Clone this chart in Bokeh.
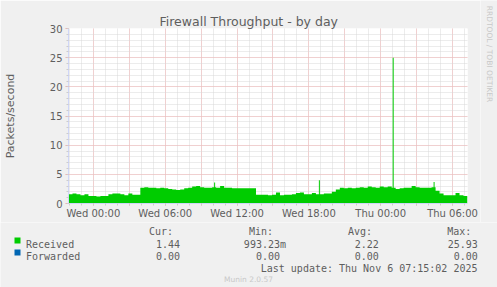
import numpy as np
import pandas as pd
from bokeh.plotting import figure
from bokeh.layouts import column, row
from bokeh.models import (Range1d, FixedTicker, DatetimeTickFormatter, Label, BoxAnnotation)
from bokeh.embed import file_html
from bokeh.resources import INLINE

# ---------------- data ----------------
title = "Firewall Throughput - by day"
y_label = "Packets/second"
start_time = "2025-11-04 21:55"
end_time = "2025-11-06 07:15"
step_minutes = 20          # resolution of the values read below
# Received packets/second, one value per 20 minutes
received = [1.6, 1.7, 1.6, 1.4, 1.6, 1.3, 1.3, 1.2, 1.3, 1.3,
            1.6, 1.7, 1.7, 1.6, 1.4, 1.7, 1.5, 1.5, 2.7, 2.8,
            2.7, 2.7, 2.6, 2.7, 2.6, 2.5, 2.4, 2.3, 2.4, 2.6,
            2.7, 2.9, 3.0, 2.8, 2.7, 2.7, 2.8, 2.7, 3.0, 2.7,
            2.7, 2.6, 2.6, 2.6, 2.6, 2.6, 2.6, 1.5, 1.5, 1.5,
            1.4, 1.5, 1.9, 1.4, 1.5, 1.5, 1.6, 1.8, 1.9, 1.6,
            1.6, 1.8, 1.6, 1.6, 1.7, 1.7, 2.0, 2.4, 2.7, 2.6,
            2.7, 2.6, 2.7, 2.8, 2.7, 2.9, 2.8, 2.7, 2.9, 2.8,
            2.9, 2.7, 2.5, 2.6, 2.7, 2.7, 3.0, 2.8, 2.7, 2.7,
            2.7, 2.8, 2.2, 1.7, 1.4, 1.4, 1.4, 1.8, 1.4, 1.3]
# short 5-minute peaks
peak_times = ["2025-11-05 10:05", "2025-11-05 18:50", "2025-11-06 01:00", "2025-11-06 04:25"]
peak_values = [3.6, 4.0, 25.0, 3.7]

legend_names = ["Received", "Forwarded"]
legend_colors = ["#00CC00", "#0066B3"]
col_headers = ["Cur:", "Min:", "Avg:", "Max:"]
stats = [["1.44", "993.23m", "2.22", "25.93"],
         ["0.00", "0.00", "0.00", "0.00"]]
last_update = "Last update: Thu Nov  6 07:15:02 2025"
version = "Munin 2.0.57"
watermark = "RRDTOOL / TOBI OETIKER"
y_ticks = [0, 5, 10, 15, 20, 25, 30]

# ---------------- build series ----------------
t0 = pd.Timestamp(start_time)
t1 = pd.Timestamp(end_time)
fine = 5
rep = step_minutes // fine
vals = np.repeat(np.array(received, dtype=float), rep)
for t, v in zip(peak_times, peak_values):
    idx = int((pd.Timestamp(t) - t0) / pd.Timedelta(minutes=fine))
    vals[idx] = v
edges = pd.date_range(t0, periods=len(vals) + 1, freq=f"{fine}min")
xs = np.repeat(edges.values, 2)[1:-1]
ys = np.repeat(vals, 2)

def ms(ts):
    return pd.Timestamp(ts).value / 1e6

FONT = "DejaVu Sans"
MONO = "DejaVu Sans Mono"
TXT = "#5e5e5e"
BG = "#F0F0F0"
W, H = 497, 287
MAIN_W, MAIN_H = 480, 222

# ---------------- main chart ----------------
p = figure(width=MAIN_W, height=MAIN_H, x_axis_type="datetime",
           output_backend="svg", toolbar_location=None,
           min_border_left=67, min_border_right=MAIN_W - 467,
           min_border_top=28, min_border_bottom=MAIN_H - 203,
           x_range=Range1d(t0, t1), y_range=Range1d(0, 30))
p.background_fill_color = "white"
p.border_fill_color = BG
p.outline_line_color = None

p.title.text = title
p.title.align = "left"
p.title.offset = 91
p.title.standoff = 0
p.title.text_font = FONT
p.title.text_font_size = "12.5px"
p.title.text_font_style = "normal"
p.title.text_color = TXT

p.varea(x=xs, y1=np.zeros_like(ys), y2=ys, fill_color=legend_colors[0])

major_x = pd.date_range("2025-11-05 00:00", "2025-11-06 06:00", freq="3h")
minor_x = pd.date_range("2025-11-04 22:00", "2025-11-06 07:00", freq="1h")
xt = FixedTicker(ticks=[ms(t) for t in major_x], minor_ticks=[ms(t) for t in minor_x])
yt = FixedTicker(ticks=y_ticks, minor_ticks=list(range(0, 31)))
p.xaxis.ticker = xt
p.yaxis.ticker = yt
p.xgrid.ticker = xt
p.ygrid.ticker = yt
fmt = "%a %H:%M"
p.xaxis.formatter = DatetimeTickFormatter(milliseconds=fmt, seconds=fmt, minsec=fmt,
                                          minutes=fmt, hourmin=fmt, hours=fmt,
                                          days=fmt, months=fmt, years=fmt)
p.xaxis.major_label_overrides = {ms(t): "" for t in major_x if t.hour % 6 != 0}

for ax in (p.xaxis, p.yaxis):
    ax.axis_line_color = "#CFD6F8"
    ax.axis_line_width = 1
    ax.major_tick_line_color = "#f4a8a8"
    ax.minor_tick_line_color = "#cccccc"
    ax.major_tick_in = 0
    ax.minor_tick_in = 0
    ax.major_tick_out = 3
    ax.minor_tick_out = 2
    ax.major_label_text_font = FONT
    ax.major_label_text_font_size = "10px"
    ax.major_label_text_color = TXT
p.xaxis.major_tick_out = 2
p.xaxis.major_label_standoff = 2
p.yaxis.major_label_standoff = 3
p.yaxis.axis_label = y_label
p.yaxis.axis_label_text_font = FONT
p.yaxis.axis_label_text_font_size = "11px"
p.yaxis.axis_label_text_font_style = "normal"
p.yaxis.axis_label_text_color = TXT
p.yaxis.axis_label_standoff = 30

for g in (p.xgrid, p.ygrid):
    g.grid_line_color = "#f4b4b4"
    g.grid_line_dash = "1 1"
    g.minor_grid_line_color = "#d8d8d8"
    g.minor_grid_line_dash = "1 1"


def blank(w, h, y_top):
    f = figure(width=w, height=h, output_backend="svg", toolbar_location=None,
               min_border_left=0, min_border_right=0, min_border_top=0,
               min_border_bottom=0, x_axis_location=None, y_axis_location=None,
               x_range=Range1d(0, w), y_range=Range1d(y_top + h, y_top),
               title=None)
    f.background_fill_color = BG
    f.border_fill_color = BG
    f.outline_line_color = None
    f.grid.visible = False
    return f


def lab(f, text, cx, cy, size, font=FONT, color=TXT, align="left",
        baseline="alphabetic", angle=0):
    f.add_layout(Label(x=cx, y=cy, text=text, text_font=font, text_font_size=size,
                       text_color=color, text_align=align, text_baseline=baseline,
                       angle=angle))

# ---------------- right strip (watermark) ----------------
strip = blank(W - MAIN_W, MAIN_H, 0)
lab(strip, watermark, 488.5 - MAIN_W, 53.5, "7.5px", color="#c8c8c8",
    align="center", baseline="middle", angle=-np.pi / 2)

# ---------------- legend area ----------------
leg = blank(W, H - MAIN_H, MAIN_H)
header_left = [148.5, 248.5, 347.5, 446.8]
value_right = [[179.5, 285.5, 378.3, 477.3], [179.5, 279.5, 378.3, 477.3]]
for h, x in zip(col_headers, header_left):
    lab(leg, h, x, 231, "10px", font=MONO)
rows_y = [243.5, 255.5]
for i, name in enumerate(legend_names):
    lab(leg, name, 25.5, rows_y[i], "10px", font=MONO)
    for j, s in enumerate(stats[i]):
        lab(leg, s, value_right[i][j], rows_y[i], "10px", font=MONO, align="right")
    leg.add_layout(BoxAnnotation(left=14, right=20, top=rows_y[i] - 6.5,
                                 bottom=rows_y[i] - 0.5,
                                 fill_color=legend_colors[i], fill_alpha=1.0,
                                 line_color=None))
lab(leg, last_update, 483, 267.5, "10px", font=MONO, align="right")
lab(leg, version, 248, 279, "7.5px", color="#c8c8c8", align="center")

layout = column(row(p, column(strip, spacing=0), spacing=0), leg, spacing=0)
open("out.html", "w").write(file_html(layout, INLINE))
